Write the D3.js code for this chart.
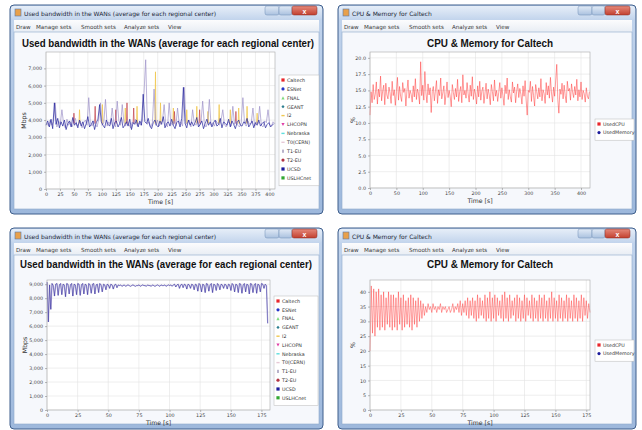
<!DOCTYPE html>
<html>
<head>
<meta charset="utf-8">
<script src="https://cdn.jsdelivr.net/npm/d3@7"></script>
<style>
  body { margin: 0; background: #ffffff; }
  svg { display: block; font-family: "Liberation Sans", Arial, sans-serif; }
</style>
</head>
<body>
<svg id="chart" width="642" height="430"></svg>
<script>
// legend entries
var centers = ["Caltech", "ESNet", "FNAL", "GEANT", "I2", "LHCOPN", "Nebraska", "T0(CERN)", "T1-EU", "T2-EU", "UCSD", "USLHCnet"];
var cpuSets = ["UsedCPU", "UsedMemory"];
var menuItems = ["Draw", "Manage sets", "Smooth sets", "Analyze sets", "View"];

// run 1 (about 410 s), bandwidth sampled every 3 s
var run1Step = 3;
var run1Ucsd = [
  3700, 3950, 3600, 4050, 3500, 5000, 3750, 4100, 3550, 3900, 3650, 4000, 3450, 3800, 3950, 3600, 4150, 3700, 3850, 3550,
  4000, 3650, 3900, 3500, 3800, 4200, 3600, 3750, 3950, 3450, 3850, 4050, 4900, 3900, 3700, 3550, 4000, 3750, 3650, 4100,
  3500, 3850, 3950, 3600, 3800, 4150, 3550, 3700, 3900, 3650, 4050, 3450, 3850, 3750, 4000, 3600, 3950, 3700, 5500, 3900,
  3800, 4100, 3650, 3500, 3850, 4000, 3700, 3600, 3950, 3750, 4200, 3550, 3800, 3900, 3650, 4050, 3700, 3500, 3850, 3950,
  3600, 4100, 5900, 3800, 3550, 4000, 3700, 3900, 3650, 3850, 4150, 3600, 3750, 3950, 3500, 3800, 4050, 3700, 3900, 3600,
  3850, 4000, 3650, 3750, 4100, 3550, 3900, 3800, 3700, 4050, 3600, 3950, 3750, 3500, 3850, 4000, 3700, 3650, 3900, 3800,
  4100, 3600, 3750, 3950, 3550, 3850, 3700, 4000, 3650, 3800, 3900, 3550, 3750, 3850, 3600, 3700, 3800
];
// T1-EU, sampled every 3 s but half a step later than UCSD
var run1T1euOffset = 1.5;
var run1T1eu = [
  3850, 3650, 4000, 3700, 3900, 5000, 3600, 3950, 3750, 4600, 3800, 3550, 4050, 3700, 3900, 3600, 3850, 4100, 3650, 3800,
  3950, 3550, 3850, 4000, 3700, 5300, 3800, 3650, 3950, 3750, 3600, 4050, 5000, 3700, 3850, 5200, 3650, 3900, 3750, 4700,
  3800, 3600, 5100, 3950, 3700, 4900, 3850, 3650, 4000, 3750, 3550, 3900, 3800, 4050, 3650, 3850, 3700, 3950, 5600, 7500,
  3750, 3900, 3600, 3850, 5800, 3700, 4000, 3650, 3800, 3950, 4900, 3750, 3600, 5000, 3850, 3700, 3950, 3650, 4700, 3800,
  3900, 3650, 5900, 3750, 3850, 4000, 3600, 4600, 3800, 3700, 3950, 3650, 3850, 5100, 3750, 3600, 3900, 5200, 3700, 3850,
  3650, 3950, 3800, 3700, 4000, 4600, 3750, 3600, 3900, 3850, 3650, 4800, 3750, 3950, 3700, 3600, 3850, 5300, 3800, 3650,
  3950, 3750, 3850, 4700, 3650, 3900, 3800, 4800, 3700, 3600, 3950, 3850, 4600, 3750, 3650, 3900, 3800
];
// spikes of other centers: time [s] and peak [Mbps], rising from the common band level
var bandLevel = 3800;
var run1I2Times = [60, 101, 142, 163, 196, 205, 228, 252, 270, 290, 310, 330, 345, 360, 378];
var run1I2Peaks = [4600, 4900, 4700, 4800, 6800, 5000, 4700, 4600, 4800, 4500, 4900, 4600, 4700, 4800, 4400];
var run1T2euTimes = [50, 88, 125, 145, 157, 230, 275, 340];
var run1T2euPeaks = [4400, 4800, 4600, 5000, 4700, 4500, 4600, 4500];

// run 1 cpu of Caltech, every 2 s
var run1CpuStep = 2;
var run1Cpu = [
  11.2, 14.8, 13.1, 15.9, 13.6, 14.4, 16.3, 12.9, 15.2, 14.0, 17.2, 13.4, 14.9, 15.8, 12.8, 16.1, 14.3, 13.7, 15.5, 14.6,
  13.0, 16.4, 14.2, 15.1, 12.7, 14.8, 17.0, 13.5, 15.6, 14.1, 13.3, 16.2, 14.7, 15.3, 12.6, 14.9, 16.6, 13.8, 15.0, 14.4,
  13.2, 15.7, 14.0, 16.8, 13.6, 15.2, 14.5, 12.9, 19.4, 14.2, 15.8, 13.5, 17.9, 14.6, 13.1, 16.0, 14.3, 15.4, 11.6, 14.8,
  15.6, 13.4, 14.9, 16.5, 13.0, 15.1, 14.2, 16.9, 13.7, 14.6, 15.7, 12.8, 14.4, 16.3, 13.9, 15.0, 14.1, 12.5, 15.9, 14.7,
  13.6, 15.3, 14.0, 16.7, 13.3, 14.8, 15.6, 13.1, 17.4, 14.3, 15.0, 13.8, 16.2, 14.5, 13.2, 15.8, 14.1, 17.1, 13.6, 15.2,
  14.4, 12.9, 15.7, 14.0, 16.4, 13.5, 14.9, 15.5, 13.0, 14.6, 16.1, 13.7, 15.2, 14.3, 12.8, 15.9, 14.8, 13.4, 16.6, 14.1,
  15.0, 13.3, 14.7, 16.2, 13.8, 15.4, 14.2, 12.7, 15.8, 14.5, 16.9, 13.6, 15.1, 14.0, 13.2, 16.3, 14.6, 15.5, 13.1, 14.9,
  16.0, 13.9, 15.3, 14.4, 12.9, 15.7, 14.1, 16.5, 13.5, 11.2, 15.0, 14.7, 16.4, 13.3, 15.6, 14.2, 12.6, 15.9, 14.8, 13.7,
  15.4, 14.0, 16.8, 13.4, 15.1, 14.5, 13.0, 16.2, 14.3, 15.7, 13.8, 17.0, 14.6, 13.2, 15.5, 14.1, 16.6, 19.0, 13.6, 11.5,
  15.2, 14.4, 16.1, 13.7, 15.8, 14.2, 13.1, 16.4, 14.9, 15.3, 13.5, 16.0, 14.7, 13.9, 15.6, 14.3, 16.7, 13.4, 15.1, 14.0,
  16.3, 13.6, 15.0, 14.5, 13.2, 15.4, 14.1, 13.7, 14.8
];

// run 2 (about 180 s), bandwidth every 1 s
var run2Ucsd = [
  9150, 6300, 8950, 7200, 9050, 8900, 8150, 9000, 9050, 8200, 8950, 9050, 8250, 9000, 8950, 8100, 9050, 9000, 8300, 8950,
  9050, 8150, 9000, 8950, 8250, 9050, 9000, 8200, 8950, 9050, 8300, 9000, 8950, 8250, 9050, 8950, 8350, 9000, 9050, 8300,
  8950, 9000, 8400, 9050, 8950, 8450, 9000, 8950, 8600, 9000, 8950, 8700, 9000, 8950, 8650, 8950, 9000, 8750, 8950, 8900,
  8950, 8850, 8900, 8950, 8850, 8900, 8950, 8900, 8850, 8900, 8950, 8900, 8850, 8900, 8900, 8950, 8850, 8900, 8950, 8900,
  8900, 8850, 8950, 8900, 8900, 8850, 8950, 8900, 8850, 8900, 8950, 8900, 8850, 8950, 8900, 8900, 8950, 8850, 8900, 8950,
  8900, 8950, 8850, 8950, 9000, 8800, 8950, 9000, 8700, 8950, 9000, 8750, 9000, 8950, 8650, 9000, 8950, 8700, 9000, 8950,
  8600, 9000, 8950, 8500, 9050, 8950, 8450, 9000, 8950, 8400, 9050, 9000, 8500, 8950, 9050, 8400, 9000, 8950, 8550, 9050,
  8950, 8600, 9000, 8950, 8700, 9000, 8950, 8650, 9000, 8950, 8550, 9050, 8950, 8450, 9000, 8950, 8400, 9050, 9000, 8350,
  8950, 9050, 8450, 9000, 8950, 8300, 9050, 9000, 8400, 8950, 9050, 8350, 9000, 8950, 8450, 9050, 9000, 8700, 9000, 8900,
  6200
];

// run 2 cpu of Caltech, every 1 s
var run2Cpu = [
  20, 42, 26, 41, 25, 40, 28, 41, 27, 39, 28, 40, 27, 38, 29, 40, 28, 39, 27, 39,
  28, 38, 27, 40, 29, 38, 27, 39, 28, 37, 29, 38, 28, 39, 27, 38, 29, 37, 28, 38,
  30, 37, 31, 36, 32, 35, 33, 36, 34, 35, 33, 36, 34, 35, 33, 35, 34, 36, 33, 35,
  34, 35, 33, 34, 35, 33, 34, 36, 33, 35, 34, 36, 33, 37, 32, 36, 33, 37, 32, 38,
  31, 37, 32, 38, 31, 37, 30, 39, 31, 38, 32, 37, 31, 39, 30, 38, 31, 40, 30, 38,
  31, 39, 30, 38, 32, 37, 31, 39, 30, 40, 31, 38, 30, 39, 31, 37, 32, 38, 30, 39,
  31, 38, 30, 37, 31, 39, 30, 38, 32, 37, 31, 39, 30, 38, 31, 37, 30, 39, 31, 38,
  30, 39, 31, 37, 30, 38, 31, 40, 30, 38, 31, 37, 30, 39, 31, 38, 30, 37, 31, 39,
  30, 38, 31, 37, 30, 39, 31, 38, 30, 37, 31, 39, 30, 38, 32, 37, 31, 36, 33
];

// tick values
var run1BwTicks = [0, 1000, 2000, 3000, 4000, 5000, 6000, 7000];
var run1BwTimeTicks = [0, 25, 50, 75, 100, 125, 150, 175, 200, 225, 250, 275, 300, 325, 350, 375, 400];
var run1CpuTicks = [0, 2.5, 5, 7.5, 10, 12.5, 15, 17.5, 20];
var run1CpuTimeTicks = [0, 50, 100, 150, 200, 250, 300, 350, 400];
var run2BwTicks = [0, 1000, 2000, 3000, 4000, 5000, 6000, 7000, 8000, 9000];
var run2TimeTicks = [0, 25, 50, 75, 100, 125, 150, 175];
var run2CpuTicks = [0, 5, 10, 15, 20, 25, 30, 35, 40];

// colours for legend entries
var centerColors = ["#e8262c", "#2535c8", "#7fdc7f", "#2e7f90", "#f0c850", "#e040a8", "#5fdede", "#e6c9d6", "#9a92b4", "#b23444", "#1c1c9c", "#33a833"];
var centerShapes = ["square", "circle", "triangle", "diamond", "hbar", "tridown", "hbar", "hbar", "vbar", "circle", "square", "square"];
var cpuColors = ["#e8262c", "#1c1c9c"];

var svg = d3.select("#chart");
var defs = svg.append("defs");

function grad(id, c1, c2) {
  var lg = defs.append("linearGradient").attr("id", id).attr("x1", 0).attr("y1", 0).attr("x2", 0).attr("y2", 1);
  lg.append("stop").attr("offset", "0%").attr("stop-color", c1);
  lg.append("stop").attr("offset", "100%").attr("stop-color", c2);
}
grad("frameGrad", "#c3d5ed", "#9db8dc");
grad("titleGrad", "#e6eef8", "#c2d4ec");
grad("menuGrad", "#fcfcfd", "#e8edf4");
grad("btnGrad", "#e2ebf6", "#aac1df");
grad("closeGrad", "#e5897b", "#c2402f");

function marker(g, shape, cx, cy, color) {
  var s = 1.6;
  if (shape === "square") {
    g.append("rect").attr("x", cx - s).attr("y", cy - s).attr("width", 2 * s).attr("height", 2 * s).attr("fill", color);
  } else if (shape === "circle") {
    g.append("circle").attr("cx", cx).attr("cy", cy).attr("r", s).attr("fill", color);
  } else if (shape === "triangle") {
    g.append("path").attr("d", "M" + cx + "," + (cy - s) + "L" + (cx + s) + "," + (cy + s) + "L" + (cx - s) + "," + (cy + s) + "Z").attr("fill", color);
  } else if (shape === "tridown") {
    g.append("path").attr("d", "M" + cx + "," + (cy + s) + "L" + (cx + s) + "," + (cy - s) + "L" + (cx - s) + "," + (cy - s) + "Z").attr("fill", color);
  } else if (shape === "diamond") {
    g.append("path").attr("d", "M" + cx + "," + (cy - s) + "L" + (cx + s) + "," + cy + "L" + cx + "," + (cy + s) + "L" + (cx - s) + "," + cy + "Z").attr("fill", color);
  } else if (shape === "hbar") {
    g.append("rect").attr("x", cx - s).attr("y", cy - 0.7).attr("width", 2 * s).attr("height", 1.4).attr("fill", color);
  } else {
    g.append("rect").attr("x", cx - 0.7).attr("y", cy - s).attr("width", 1.4).attr("height", 2 * s).attr("fill", color);
  }
}

// one screenshot window with a chart inside
function drawWindow(cfg) {
  var g = svg.append("g");
  var x0 = cfg.x, y0 = cfg.y, w = cfg.w, h = cfg.h;

  // frame and title bar
  g.append("rect").attr("x", x0).attr("y", y0).attr("width", w).attr("height", h).attr("rx", 4)
    .attr("fill", "url(#frameGrad)").attr("stroke", "#3f5f8c").attr("stroke-width", 1);
  g.append("rect").attr("x", x0 + 1).attr("y", y0 + 1).attr("width", w - 2).attr("height", 14).attr("rx", 3)
    .attr("fill", "url(#titleGrad)");
  g.append("rect").attr("x", x0 + 5).attr("y", y0 + 4).attr("width", 6).attr("height", 7).attr("fill", "#e8a04a").attr("stroke", "#5a7aa8").attr("stroke-width", 0.6);
  g.append("text").attr("x", x0 + 14).attr("y", y0 + 10.5).attr("font-family", "'DejaVu Sans', sans-serif")
    .attr("font-size", 6).attr("fill", "#1d2838").text(cfg.winTitle);
  g.append("rect").attr("x", x0 + w - 58).attr("y", y0 + 1).attr("width", 14).attr("height", 9).attr("rx", 2)
    .attr("fill", "url(#btnGrad)").attr("stroke", "#6f8db5").attr("stroke-width", 0.5);
  g.append("rect").attr("x", x0 + w - 44).attr("y", y0 + 1).attr("width", 13).attr("height", 9).attr("rx", 2)
    .attr("fill", "url(#btnGrad)").attr("stroke", "#6f8db5").attr("stroke-width", 0.5);
  g.append("rect").attr("x", x0 + w - 31).attr("y", y0 + 1).attr("width", 25).attr("height", 9).attr("rx", 2)
    .attr("fill", "url(#closeGrad)").attr("stroke", "#8a2a20").attr("stroke-width", 0.5);
  g.append("text").attr("x", x0 + w - 18.5).attr("y", y0 + 8.5).attr("text-anchor", "middle")
    .attr("font-size", 7).attr("font-weight", "bold").attr("fill", "#ffffff").text("x");

  // menu bar
  g.append("rect").attr("x", x0 + 4).attr("y", y0 + 15).attr("width", w - 8).attr("height", 12).attr("fill", "url(#menuGrad)");
  var mx = x0 + 6;
  var menuWidths = [20, 45, 43, 44, 20];
  menuItems.forEach(function(m, i) {
    g.append("text").attr("x", mx).attr("y", y0 + 23.5).attr("font-family", "'DejaVu Sans', sans-serif")
      .attr("font-size", 5.6).attr("fill", "#3b3b3b").text(m);
    mx += menuWidths[i];
  });

  // chart panel
  g.append("rect").attr("x", x0 + 4).attr("y", y0 + 27).attr("width", w - 8).attr("height", h - 32)
    .attr("fill", "#f6f8fc").attr("stroke", "#8ea8c9").attr("stroke-width", 0.6);
  g.append("text").attr("x", cfg.titleX).attr("y", cfg.titleY).attr("text-anchor", "middle")
    .attr("font-size", 10.5).attr("font-weight", "bold").attr("fill", "#111")
    .attr("textLength", cfg.titleLen).attr("lengthAdjust", "spacingAndGlyphs").text(cfg.chartTitle);

  // plot
  var p = cfg.plot;
  var x = d3.scaleLinear().domain([0, cfg.xMax]).range([p.l, p.r]);
  var y = d3.scaleLinear().domain([0, cfg.yMax]).range([p.b, p.t]);
  g.append("rect").attr("x", p.l).attr("y", p.t).attr("width", p.r - p.l).attr("height", p.b - p.t).attr("fill", "#ffffff");

  g.selectAll(null).data(cfg.xTicks).enter().append("line")
    .attr("x1", function(d) { return x(d); }).attr("x2", function(d) { return x(d); })
    .attr("y1", p.t).attr("y2", p.b).attr("stroke", "#e2e2e2").attr("stroke-width", 0.6);
  g.selectAll(null).data(cfg.yTicks).enter().append("line")
    .attr("y1", function(d) { return y(d); }).attr("y2", function(d) { return y(d); })
    .attr("x1", p.l).attr("x2", p.r).attr("stroke", "#e2e2e2").attr("stroke-width", 0.6);

  var plotArea = g.append("g");
  cfg.draw(plotArea, x, y);

  g.append("rect").attr("x", p.l).attr("y", p.t).attr("width", p.r - p.l).attr("height", p.b - p.t)
    .attr("fill", "none").attr("stroke", "#a8a8a8").attr("stroke-width", 0.6);

  // axes
  var xAxis = g.append("g").attr("transform", "translate(0," + p.b + ")")
    .call(d3.axisBottom(x).tickValues(cfg.xTicks).tickSize(2).tickPadding(1.5).tickFormat(d3.format("d")));
  var yAxis = g.append("g").attr("transform", "translate(" + p.l + ",0)")
    .call(d3.axisLeft(y).tickValues(cfg.yTicks).tickSize(2).tickPadding(2).tickFormat(cfg.yFmt));
  [xAxis, yAxis].forEach(function(a) {
    a.select(".domain").remove();
    a.selectAll("line").attr("stroke", "#888").attr("stroke-width", 0.6);
    a.selectAll("text").attr("font-size", 4.8).attr("fill", "#444").attr("font-family", "'DejaVu Sans', sans-serif");
  });

  g.append("text").attr("x", (p.l + p.r) / 2).attr("y", p.b + 14.5).attr("text-anchor", "middle")
    .attr("font-family", "'DejaVu Sans', sans-serif").attr("font-size", 6.2).attr("fill", "#333").text("Time [s]");
  g.append("text").attr("transform", "translate(" + (p.l - cfg.yLabelOff) + "," + ((p.t + p.b) / 2) + ") rotate(-90)")
    .attr("text-anchor", "middle").attr("font-family", "'DejaVu Sans', sans-serif")
    .attr("font-size", 6.2).attr("fill", "#333").text(cfg.yLabel);

  // legend
  var lg = cfg.legend;
  g.append("rect").attr("x", lg.x).attr("y", lg.y).attr("width", lg.w).attr("height", lg.names.length * lg.gap + 4)
    .attr("fill", "#ffffff").attr("stroke", "#b8b8b8").attr("stroke-width", 0.5);
  lg.names.forEach(function(n, i) {
    var cy = lg.y + 5 + i * lg.gap;
    marker(g, lg.shapes[i], lg.x + 4, cy, lg.colors[i]);
    g.append("text").attr("x", lg.x + 8).attr("y", cy + 1.8).attr("font-family", "'DejaVu Sans', sans-serif")
      .attr("font-size", 4.8).attr("fill", "#333").text(n);
  });
}

// small up spikes from the band level
function spikes(g, x, y, times, peaks, color, width) {
  var ln = d3.line().x(function(d) { return x(d[0]); }).y(function(d) { return y(d[1]); });
  times.forEach(function(t, i) {
    g.append("path").attr("d", ln([[t - 1, bandLevel], [t, peaks[i]], [t + 1, bandLevel]]))
      .attr("fill", "none").attr("stroke", color).attr("stroke-width", width);
  });
}

function seriesLine(g, x, y, values, step, offset, color, width, op) {
  var ln = d3.line().x(function(d, i) { return x(offset + i * step); }).y(function(d) { return y(d); });
  g.append("path").datum(values).attr("d", ln).attr("fill", "none")
    .attr("stroke", color).attr("stroke-width", width).attr("stroke-opacity", op).attr("stroke-linejoin", "round");
}

// top left: bandwidth, run 1
drawWindow({
  x: 10, y: 5, w: 313, h: 209,
  winTitle: "Used bandwidth in the WANs (average for each regional center)",
  chartTitle: "Used bandwidth in the WANs (average for each regional center)",
  titleX: 168, titleY: 47, titleLen: 292,
  plot: { l: 46, t: 52, r: 275, b: 189 },
  xMax: 410, yMax: 7950,
  xTicks: run1BwTimeTicks, yTicks: run1BwTicks, yFmt: d3.format(","), yLabel: "Mbps", yLabelOff: 20,
  legend: { x: 279, y: 75, w: 40, gap: 8.9, names: centers, colors: centerColors, shapes: centerShapes },
  draw: function(g, x, y) {
    spikes(g, x, y, run1I2Times, run1I2Peaks, "#f0c850", 0.8);
    spikes(g, x, y, run1T2euTimes, run1T2euPeaks, "#c0404a", 0.7);
    seriesLine(g, x, y, run1T1eu, run1Step, run1T1euOffset, "#9d92c8", 0.7, 1);
    seriesLine(g, x, y, run1Ucsd, run1Step, 0, "#22229c", 0.7, 1);
  }
});

// top right: cpu, run 1
drawWindow({
  x: 338, y: 5, w: 298, h: 209,
  winTitle: "CPU & Memory for Caltech",
  chartTitle: "CPU & Memory for Caltech",
  titleX: 490, titleY: 47, titleLen: 126,
  plot: { l: 370, t: 52, r: 590, b: 188 },
  xMax: 417, yMax: 20.9,
  xTicks: run1CpuTimeTicks, yTicks: run1CpuTicks, yFmt: d3.format(".1f"), yLabel: "%", yLabelOff: 15,
  legend: { x: 595, y: 119, w: 39, gap: 8.6, names: cpuSets, colors: cpuColors, shapes: ["square", "circle"] },
  draw: function(g, x, y) {
    seriesLine(g, x, y, run1Cpu, run1CpuStep, 0, "#ff3a3a", 0.6, 0.85);
  }
});

// bottom left: bandwidth, run 2
drawWindow({
  x: 10, y: 228, w: 313, h: 201,
  winTitle: "Used bandwidth in the WANs (average for each regional center)",
  chartTitle: "Used bandwidth in the WANs (average for each regional center)",
  titleX: 166, titleY: 268, titleLen: 292,
  plot: { l: 47, t: 280, r: 270, b: 410 },
  xMax: 182, yMax: 9300,
  xTicks: run2TimeTicks, yTicks: run2BwTicks, yFmt: d3.format(","), yLabel: "Mbps", yLabelOff: 20,
  legend: { x: 274, y: 296, w: 44, gap: 8.8, names: centers, colors: centerColors, shapes: centerShapes },
  draw: function(g, x, y) {
    seriesLine(g, x, y, run2Ucsd, 1, 0.3, "#a096c8", 0.8, 0.9);
    seriesLine(g, x, y, run2Ucsd, 1, 0, "#2a249e", 0.5, 1);
  }
});

// bottom right: cpu, run 2
drawWindow({
  x: 338, y: 228, w: 298, h: 201,
  winTitle: "CPU & Memory for Caltech",
  chartTitle: "CPU & Memory for Caltech",
  titleX: 490, titleY: 268, titleLen: 126,
  plot: { l: 370, t: 280, r: 590, b: 410 },
  xMax: 178, yMax: 44,
  xTicks: run2TimeTicks, yTicks: run2CpuTicks, yFmt: d3.format("d"), yLabel: "%", yLabelOff: 15,
  legend: { x: 595, y: 340, w: 39, gap: 8.6, names: cpuSets, colors: cpuColors, shapes: ["square", "circle"] },
  draw: function(g, x, y) {
    seriesLine(g, x, y, run2Cpu, 1, 0, "#ff3a3a", 0.6, 0.8);
  }
});
</script>
</body>
</html>
